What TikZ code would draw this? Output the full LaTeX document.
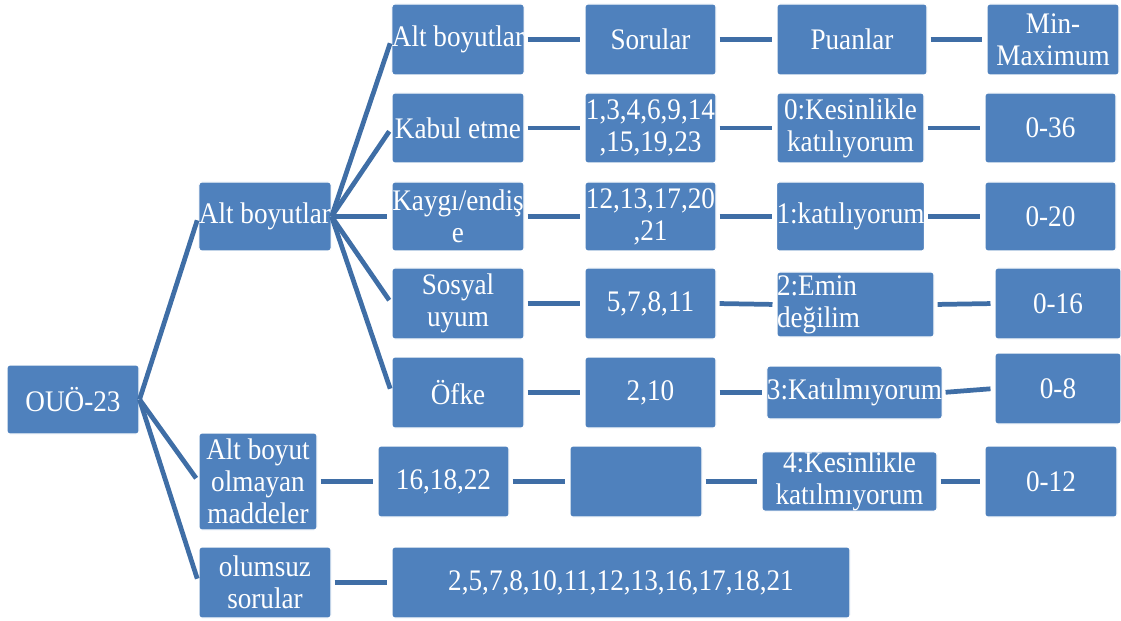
\documentclass[tikz,border=0pt]{standalone}
\usepackage{fontspec}
\setmainfont{Liberation Serif}[FakeStretch=0.91]
\usetikzlibrary{positioning}

\definecolor{boxblue}{RGB}{79,129,189}
\definecolor{linkblue}{RGB}{63,110,166}

\tikzset{
    cell/.style={rectangle, rounded corners=1.6pt, fill=boxblue, draw=white,
        line width=0.6pt, text=white, align=center, inner sep=0pt,
        font=\fontsize{17}{18.2}\selectfont},
    link/.style={draw=linkblue, line width=2.7pt, shorten >=0.08cm, shorten <=0.06cm}
}

% box from its corners (x1,y1) to (x2,y2), in pixels of the layout
\newcommand{\cellbox}[7][]{%
    \node[cell, #1, minimum width={(#5-#3)*0.02cm}, minimum height={(#6-#4)*0.02cm}]
        (#2) at ({(#3+#5)/2},{(#4+#6)/2}) {#7};}

\begin{document}
\begin{tikzpicture}[x=0.02cm,y=-0.02cm]
    \useasboundingbox (0,0) rectangle (1121,621);

    % Root and first level
    \cellbox{root}{7}{365}{139}{434}{OUÖ-23}
    \cellbox{sub}{199}{182}{331}{251}{Alt boyutlar}
    \cellbox{nodim}{199}{433}{317}{530}{Alt boyut\\olmayan\\maddeler}
    \cellbox{neg}{199}{547}{331}{618}{olumsuz\\sorular}

    % Sub dimensions
    \cellbox{head}{392}{4}{524}{75}{Alt boyutlar}
    \cellbox{kabul}{392}{93}{524}{163}{Kabul etme}
    \cellbox{kaygi}{392}{182}{524}{251}{Kaygı/endiş\\e}
    \cellbox{sosyal}{392}{268}{524}{339}{Sosyal\\uyum}
    \cellbox{ofke}{392}{357}{524}{428}{Öfke}
    \cellbox{items}{378}{446}{509}{517}{16,18,22}
    \cellbox{negitems}{392}{547}{850}{618}{2,5,7,8,10,11,12,13,16,17,18,21}

    % Questions
    \cellbox{sorular}{585}{4}{716}{75}{Sorular}
    \cellbox{sKabul}{585}{93}{716}{163}{1,3,4,6,9,14\\,15,19,23}
    \cellbox{sKaygi}{585}{182}{716}{251}{12,13,17,20\\,21}
    \cellbox{sSosyal}{585}{268}{716}{339}{5,7,8,11}
    \cellbox{sOfke}{585}{357}{716}{428}{2,10}
    \cellbox{sEmpty}{570}{446}{702}{517}{}

    % Scores
    \cellbox{puan}{777}{4}{927}{75}{Puanlar}
    \cellbox{pZero}{777}{93}{924}{163}{0:Kesinlikle\\katılıyorum}
    \cellbox{pOne}{777}{182}{924}{251}{1:katılıyorum}
    \cellbox[align=left, text width=3.14cm]{pTwo}{777}{272}{934}{337}{2:Emin\\değilim}
    \cellbox{pThree}{770}{366}{939}{419}{3:Katılmıyorum}
    \cellbox{pFour}{762}{452}{937}{511}{4:Kesinlikle\\katılmıyorum}

    % Min-max
    \cellbox{minmax}{987}{4}{1119}{75}{Min-\\Maximum}
    \cellbox{mKabul}{985}{93}{1116}{163}{0-36}
    \cellbox{mKaygi}{985}{182}{1116}{251}{0-20}
    \cellbox{mSosyal}{995}{268}{1121}{339}{0-16}
    \cellbox{mOfke}{995}{353}{1121}{424}{0-8}
    \cellbox{mNodim}{985}{446}{1117}{517}{0-12}

    % Branches
    \foreach \t in {sub,nodim,neg}
        \draw[link, shorten <=0pt] (root.east) -- (\t.west);
    \foreach \t in {head,kabul,kaygi,sosyal,ofke}
        \draw[link, shorten <=0pt] (sub.east) -- (\t.west);

    % Rows
    \foreach \a/\b in {head/sorular, sorular/puan, puan/minmax,
            kabul/sKabul, sKabul/pZero, pZero/mKabul,
            kaygi/sKaygi, sKaygi/pOne, pOne/mKaygi,
            sosyal/sSosyal, sSosyal/pTwo, pTwo/mSosyal,
            ofke/sOfke, sOfke/pThree, pThree/mOfke,
            nodim/items, items/sEmpty, sEmpty/pFour, pFour/mNodim,
            neg/negitems}
        \draw[link] (\a.east) -- (\b.west);
\end{tikzpicture}
\end{document}
